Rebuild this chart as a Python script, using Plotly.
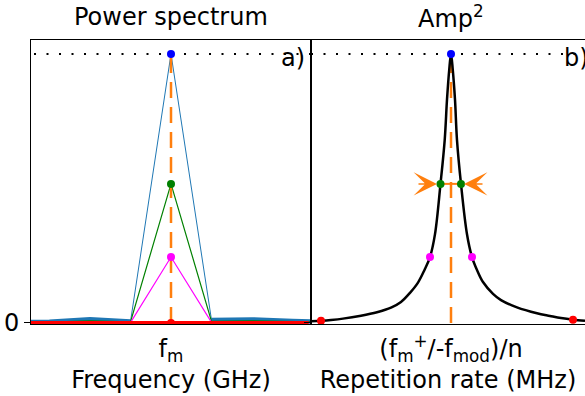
import plotly.graph_objects as go

# left panel: power spectrum around the mode f_m (x in units of mode spacing)
freq_x = [-4, -3, -2, -1, 0, 1, 2, 3, 4]
blue_spec = [0.003, 0.004, 0.014, 0.005, 1.0, 0.011, 0.013, 0.007, 0.004]
green_spec = [0.002, 0.003, 0.008, 0.004, 0.517, 0.006, 0.008, 0.005, 0.002]
magenta_spec = [0.0, 0.001, 0.003, 0.001, 0.245, 0.002, 0.003, 0.002, 0.0]
# thick blue background segments (side bands only)
blue_side_x = [-4, -3, -2, -1, None, 1, 2, 3, 4]
blue_side_y = [0.003, 0.004, 0.014, 0.005, None, 0.011, 0.013, 0.007, 0.004]
red_line_x = [-4, 3.4]
red_line_y = [0, 0]

# dots at f_m
dot_x = [0, 0, 0, 0]
dot_y = [1.0, 0.517, 0.245, 0.0]
dot_colors = ["blue", "green", "magenta", "red"]

# right panel: Amp^2 vs repetition rate detuning (arbitrary units)
rep_x = [-14.0, -13.0, -12.0, -10.8, -9.0, -7.4, -6.0, -5.0, -4.1, -3.3, -2.65, -2.1, -1.6,
         -1.05, -0.63, -0.4, -0.18, 0.0, 0.18, 0.4, 0.6, 1.0, 1.6, 2.1, 2.6, 3.2, 4.2,
         5.0, 6.6, 8.6, 9.9, 11.0, 12.2, 13.4]
amp2 = [0.006, 0.008, 0.011, 0.016, 0.027, 0.04, 0.057, 0.078, 0.112, 0.15, 0.197, 0.245, 0.33,
        0.517, 0.68, 0.83, 0.94, 1.0, 0.94, 0.83, 0.68, 0.517, 0.33, 0.245, 0.197, 0.152, 0.108,
        0.085, 0.058, 0.036, 0.026, 0.018, 0.012, 0.008]
pts_x = [0.0, -1.05, 1.0, -2.1, 2.1, -13.0, 12.2]
pts_y = [1.0, 0.517, 0.517, 0.245, 0.245, 0.008, 0.012]
pts_colors = ["blue", "green", "green", "magenta", "magenta", "red", "red"]
fwhm_tips = [-1.4, 1.3]
fwhm_level = 0.517

orange = "#ff7f0e"
font = "DejaVu Sans"
W, H = 585, 396
x_split = 311 / W

fig = go.Figure()

# ---- left panel
fig.add_trace(go.Scatter(x=freq_x, y=blue_spec, mode="lines",
                         line=dict(color="#1f77b4", width=1), xaxis="x", yaxis="y"))
fig.add_trace(go.Scatter(x=blue_side_x, y=blue_side_y, mode="lines",
                         line=dict(color="#1f77b4", width=4.5), xaxis="x", yaxis="y"))
fig.add_trace(go.Scatter(x=freq_x, y=green_spec, mode="lines",
                         line=dict(color="green", width=1.2), xaxis="x", yaxis="y"))
fig.add_trace(go.Scatter(x=freq_x, y=magenta_spec, mode="lines",
                         line=dict(color="magenta", width=1.2), xaxis="x", yaxis="y"))
fig.add_trace(go.Scatter(x=red_line_x, y=red_line_y, mode="lines",
                         line=dict(color="red", width=4), xaxis="x", yaxis="y"))
fig.add_trace(go.Scatter(x=[min(freq_x), max(freq_x)], y=[max(blue_spec)] * 2, mode="lines",
                         line=dict(color="black", width=2, dash="2px,10.5px"),
                         xaxis="x", yaxis="y"))
fig.add_trace(go.Scatter(x=[0, 0], y=[0, max(blue_spec)], mode="lines",
                         line=dict(color=orange, width=2.5, dash="16px,9px"),
                         xaxis="x", yaxis="y"))
fig.add_trace(go.Scatter(x=dot_x, y=dot_y, mode="markers",
                         marker=dict(color=dot_colors, size=8), xaxis="x", yaxis="y"))

# ---- right panel
fig.add_trace(go.Scatter(x=[rep_x[0], rep_x[-1]], y=[max(amp2)] * 2, mode="lines",
                         line=dict(color="black", width=2, dash="2px,10.5px"),
                         xaxis="x2", yaxis="y2"))
fig.add_trace(go.Scatter(x=[0, 0], y=[0, max(amp2)], mode="lines",
                         line=dict(color=orange, width=2.5, dash="16px,9px"),
                         xaxis="x2", yaxis="y2"))
fig.add_trace(go.Scatter(x=rep_x, y=amp2, mode="lines",
                         line=dict(color="black", width=2.5, shape="spline", smoothing=1),
                         xaxis="x2", yaxis="y2"))
fig.add_trace(go.Scatter(x=fwhm_tips, y=[fwhm_level] * 2, mode="lines",
                         line=dict(color=orange, width=2), xaxis="x2", yaxis="y2"))
fig.add_trace(go.Scatter(x=pts_x, y=pts_y, mode="markers",
                         marker=dict(color=pts_colors, size=8), xaxis="x2", yaxis="y2"))

# inward-pointing arrowheads marking the FWHM
for tip, sgn in zip(fwhm_tips, [-1, 1]):
    fig.add_annotation(x=tip, y=fwhm_level, ax=tip + sgn * 2.0, ay=fwhm_level,
                       xref="x2", yref="y2", axref="x2", ayref="y2", text="",
                       showarrow=True, arrowhead=3, arrowsize=2.6, arrowwidth=1.5,
                       arrowcolor=orange, standoff=0)

txt = dict(family=font, size=24, color="black")
fig.add_annotation(text="Power spectrum", x=171 / W, y=1.081, xanchor="center",
                   yanchor="middle", xref="paper", yref="paper", showarrow=False, font=txt)
fig.add_annotation(text="Amp<sup>2</sup>", x=451 / W, y=1.081, xanchor="center",
                   yanchor="middle", xref="paper", yref="paper", showarrow=False, font=txt)
fig.add_annotation(text="a)", x=3.35, y=0.985, xref="x", yref="y", xanchor="right",
                   yanchor="middle", showarrow=False, font=txt)
fig.add_annotation(text="b)", x=1.01, y=0.985, xref="paper", yref="y2", xanchor="right",
                   yanchor="middle", showarrow=False, font=txt)

axis_common = dict(showgrid=False, zeroline=False, showline=True, linecolor="black",
                   linewidth=1, tickfont=txt, automargin=False)
fig.update_layout(
    width=W, height=H,
    margin=dict(l=0, r=0, t=40, b=72),
    paper_bgcolor="white", plot_bgcolor="white",
    showlegend=False,
    font=txt,
    xaxis=dict(domain=[31 / W, x_split], range=[-3.457, 3.457], mirror=True,
               tickvals=[0], ticktext=["f<sub>m</sub>"], ticks="", ticklabelstandoff=3,
               title=dict(text="Frequency (GHz)", font=txt, standoff=3),
               **axis_common),
    yaxis=dict(domain=[0, 1], range=[-0.004, 1.052], mirror=True,
               tickvals=[0], ticktext=["0"], ticks="outside", ticklen=6,
               tickcolor="black", **axis_common),
    xaxis2=dict(domain=[x_split, 1], range=[-14.0, 13.4], mirror=True, anchor="y2",
                tickvals=[0], ticktext=["(f<sub>m</sub><sup>+</sup>/-f<sub>mod</sub>)/n"],
                ticks="", ticklabelstandoff=3,
                title=dict(text="Repetition rate (MHz)", font=txt, standoff=3),
                **axis_common),
    yaxis2=dict(domain=[0, 1], range=[-0.004, 1.052], anchor="x2",
                tickvals=[0], ticktext=[""], ticks="outside", ticklen=6,
                tickcolor="black", **axis_common),
)

# drop the page's default body margin so the figure sits at the window's corner
fig.write_html("out.html", config={"displayModeBar": False},
               post_script="document.body.style.margin='0';")
